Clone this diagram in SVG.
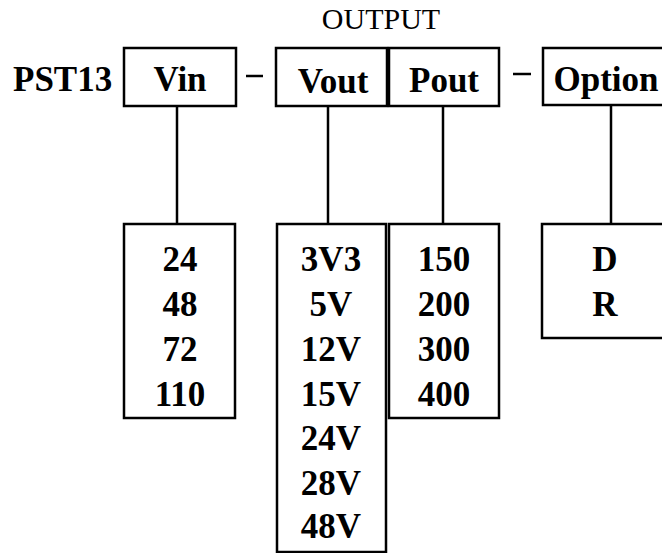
<svg xmlns="http://www.w3.org/2000/svg" width="662" height="553" viewBox="0 0 662 553">
<style>
.box{fill:#fff;stroke:#000;stroke-width:2.5}
.ln{stroke:#000;stroke-width:2.5;fill:none}
.b{font-family:"Liberation Serif","Times New Roman",serif;font-weight:bold;font-size:35px;fill:#000;text-anchor:middle}
.r{font-family:"Liberation Serif","Times New Roman",serif;font-size:30px;fill:#000;text-anchor:middle}
</style>
<rect width="662" height="553" fill="#fff"/>
<g id="connectors">
<line class="ln" x1="177" y1="106" x2="177" y2="224"/>
<line class="ln" x1="328" y1="106" x2="328" y2="224"/>
<line class="ln" x1="443" y1="106" x2="443" y2="224"/>
<line class="ln" x1="611" y1="105" x2="611" y2="224"/>
<line class="ln" x1="246" y1="76" x2="263" y2="76"/>
<line class="ln" x1="513" y1="74" x2="531" y2="74"/>
</g>
<g id="title">
<text class="r" x="381" y="29">OUTPUT</text>
</g>
<g id="pst13">
<text class="b" x="13" y="91" style="text-anchor:start">PST13</text>
</g>
<g id="vin">
<rect class="box" x="124" y="48" width="112" height="58"/>
<text class="b" x="180" y="91">Vin</text>
</g>
<g id="vout">
<rect class="box" x="276" y="48" width="111" height="58"/>
<text class="b" x="333" y="93">Vout</text>
</g>
<g id="pout">
<rect class="box" x="389" y="48" width="110" height="58"/>
<text class="b" x="444" y="92">Pout</text>
</g>
<g id="option">
<rect class="box" x="543" y="48" width="130" height="57"/>
<text class="b" x="606" y="91">Option</text>
</g>
<g id="vin-values">
<rect class="box" x="124" y="224" width="111" height="194"/>
<text class="b" x="180" y="271">24</text>
<text class="b" x="180" y="316">48</text>
<text class="b" x="180" y="361">72</text>
<text class="b" x="180" y="406">110</text>
</g>
<g id="vout-values">
<rect class="box" x="277" y="224" width="109" height="328"/>
<text class="b" x="331" y="271">3V3</text>
<text class="b" x="331" y="316">5V</text>
<text class="b" x="331" y="361">12V</text>
<text class="b" x="331" y="406">15V</text>
<text class="b" x="331" y="450">24V</text>
<text class="b" x="331" y="495">28V</text>
<text class="b" x="331" y="538">48V</text>
</g>
<g id="pout-values">
<rect class="box" x="389" y="224" width="110" height="194"/>
<text class="b" x="444" y="271">150</text>
<text class="b" x="444" y="316">200</text>
<text class="b" x="444" y="361">300</text>
<text class="b" x="444" y="406">400</text>
</g>
<g id="option-values">
<rect class="box" x="542" y="224" width="130" height="114"/>
<text class="b" x="605" y="271">D</text>
<text class="b" x="605" y="316">R</text>
</g>
</svg>
